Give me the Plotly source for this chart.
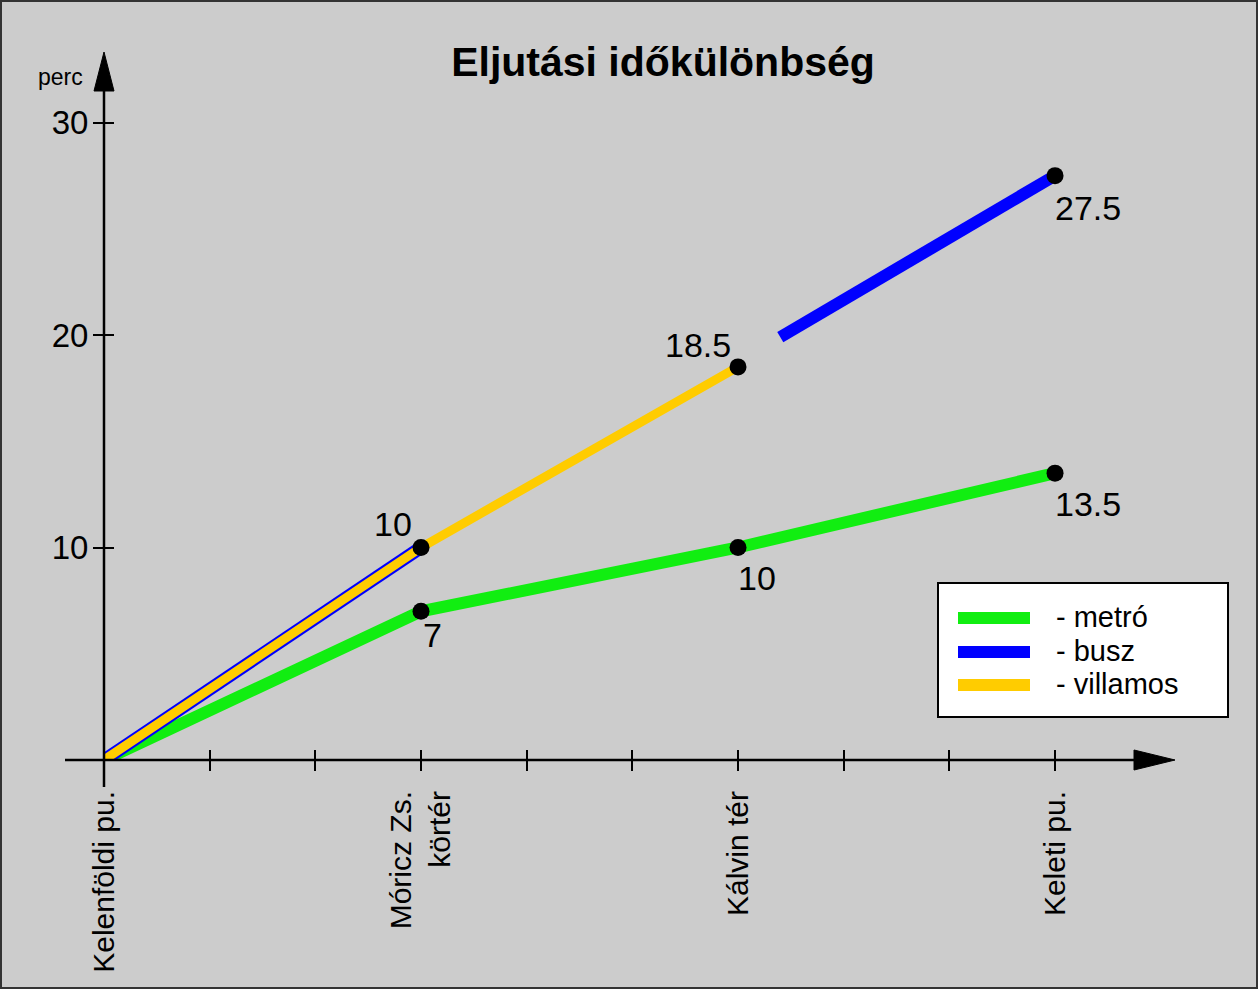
import plotly.graph_objects as go

W, H = 1258, 989

# ---- data ----
stations = ['Kelenföldi pu.', 'Móricz Zs.<br>körtér', 'Kálvin tér', 'Keleti pu.']
station_pos = [0, 3, 6, 9]
minor_ticks = [1, 2, 3, 4, 5, 6, 7, 8, 9]
y_ticks = [10, 20, 30]

metro_x = [0, 3, 6, 9]
metro_y = [0, 7, 10, 13.5]
villamos_x = [0, 3, 6]
villamos_y = [0, 10, 18.5]
busz1_x = [0, 3]
busz1_y = [0, 10]
busz2_x = [6.4, 9]
busz2_y = [19.9, 27.5]
dot_x = [3, 3, 6, 6, 9, 9]
dot_y = [10, 7, 18.5, 10, 27.5, 13.5]
label_text = ['10', '7', '18.5', '10', '27.5', '13.5']
label_shift = [(-28, 24), (11, -24), (-40, 22), (19, -30), (33, -32), (33, -31)]

legend_names = ['- metró', '- busz', '- villamos']
GREEN, BLUE, YELLOW = '#11ee11', '#0000ff', '#ffcc00'
legend_colors = [GREEN, BLUE, YELLOW]

FONT = 'Liberation Sans, Arial, Helvetica, sans-serif'

# ---- pixel geometry ----
OX, OY = 104, 760          # origin pixel
UX, UY = 105.67, 21.25     # px per data unit
RIGHT_PX, TOP_PX = 1182, 40

def px(x):
    return x / W

def py(y):
    return 1 - y / H

fig = go.Figure()

fig.add_trace(go.Scatter(x=metro_x, y=metro_y, mode='lines',
                         line=dict(color=GREEN, width=12), hoverinfo='skip'))
fig.add_trace(go.Scatter(x=busz1_x, y=busz1_y, mode='lines',
                         line=dict(color=BLUE, width=13), hoverinfo='skip'))
fig.add_trace(go.Scatter(x=villamos_x, y=villamos_y, mode='lines',
                         line=dict(color=YELLOW, width=9), hoverinfo='skip'))
fig.add_trace(go.Scatter(x=busz2_x, y=busz2_y, mode='lines',
                         line=dict(color=BLUE, width=12), hoverinfo='skip'))
fig.add_trace(go.Scatter(x=dot_x, y=dot_y, mode='markers',
                         marker=dict(color='black', size=17), hoverinfo='skip'))
# invisible trace for overlay axes
fig.add_trace(go.Scatter(x=[0], y=[0], xaxis='x2', yaxis='y2', mode='markers',
                         marker=dict(opacity=0), hoverinfo='skip'))

xr = [0, (RIGHT_PX - OX) / UX]
yr = [0, (OY - TOP_PX) / UY]
xdom = [OX / W, RIGHT_PX / W]
ydom = [(H - OY) / H, (H - TOP_PX) / H]

tickvals_x = [0] + minor_ticks
ticktext_x = []
for v in tickvals_x:
    ticktext_x.append(stations[station_pos.index(v)] if v in station_pos else '')

fig.update_layout(
    width=W, height=H,
    margin=dict(l=0, r=0, t=0, b=0, autoexpand=False),
    paper_bgcolor='#cccccc', plot_bgcolor='rgba(0,0,0,0)',
    showlegend=False,
    title=dict(text='<b>Eljutási időkülönbség</b>', x=663 / W, y=py(62),
               xanchor='center', yanchor='middle',
               font=dict(family=FONT, size=41, color='black')),
    xaxis=dict(domain=xdom, range=xr, anchor='y', showgrid=False, zeroline=False,
               automargin=False,
               showline=False, ticks='outside', ticklen=10, tickwidth=2, tickcolor='black',
               tickmode='array', tickvals=tickvals_x, ticktext=ticktext_x, tickangle=-90,
               ticklabelstandoff=8,
               tickfont=dict(family=FONT, size=30, color='black')),
    xaxis2=dict(domain=xdom, range=xr, anchor='y', overlaying='x', side='bottom',
                automargin=False,
                showgrid=False, zeroline=False, showline=False, ticks='inside',
                ticklen=10, tickwidth=2, tickcolor='black', tickmode='array',
                tickvals=minor_ticks, showticklabels=False),
    yaxis=dict(domain=ydom, range=yr, anchor='x', showgrid=False, zeroline=False,
               automargin=False,
               showline=False, ticks='outside', ticklen=10, tickwidth=2, tickcolor='black',
               tickmode='array', tickvals=y_ticks, ticktext=[str(v) for v in y_ticks],
               ticklabelstandoff=-2,
               tickfont=dict(family=FONT, size=33, color='black')),
    yaxis2=dict(domain=ydom, range=yr, anchor='x', overlaying='y', side='left',
                automargin=False,
                showgrid=False, zeroline=False, showline=False, ticks='inside',
                ticklen=10, tickwidth=2, tickcolor='black', tickmode='array',
                tickvals=y_ticks, showticklabels=False),
)

shapes = []
# axis lines
shapes.append(dict(type='line', xref='paper', yref='paper', x0=px(65), y0=py(OY),
                   x1=px(1140), y1=py(OY), line=dict(color='black', width=2.5)))
shapes.append(dict(type='line', xref='paper', yref='paper', x0=px(OX), y0=py(787),
                   x1=px(OX), y1=py(88), line=dict(color='black', width=2.5)))
# arrow heads
shapes.append(dict(type='path', xref='paper', yref='paper',
                   path=f'M {px(1175)} {py(OY)} L {px(1134)} {py(OY-10)} L {px(1134)} {py(OY+10)} Z',
                   fillcolor='black', line=dict(color='black', width=1)))
shapes.append(dict(type='path', xref='paper', yref='paper',
                   path=f'M {px(OX)} {py(52)} L {px(OX-10)} {py(91)} L {px(OX+10)} {py(91)} Z',
                   fillcolor='black', line=dict(color='black', width=1)))
# legend box
shapes.append(dict(type='rect', xref='paper', yref='paper', x0=px(938), y0=py(583),
                   x1=px(1228), y1=py(717), fillcolor='white',
                   line=dict(color='black', width=2)))
leg_y = [618, 652, 685]
for yy, c in zip(leg_y, legend_colors):
    shapes.append(dict(type='line', xref='paper', yref='paper', x0=px(958), y0=py(yy),
                       x1=px(1030), y1=py(yy), line=dict(color=c, width=12)))
# outer border
shapes.append(dict(type='rect', xref='paper', yref='paper', x0=0, y0=0, x1=1, y1=1,
                   line=dict(color='#333333', width=4)))
fig.update_layout(shapes=shapes)

annotations = []
for x, y, t, (dx, dy) in zip(dot_x, dot_y, label_text, label_shift):
    annotations.append(dict(x=x, y=y, xref='x', yref='y', text=t, showarrow=False,
                            xshift=dx, yshift=dy, xanchor='center', yanchor='middle',
                            font=dict(family=FONT, size=34, color='black')))
for yy, name in zip(leg_y, legend_names):
    annotations.append(dict(x=px(1054), y=py(yy - 1), xref='paper', yref='paper', text=name,
                            showarrow=False, xanchor='left', yanchor='middle',
                            font=dict(family=FONT, size=29, color='black')))
annotations.append(dict(x=px(60), y=py(77), xref='paper', yref='paper', text='perc',
                        showarrow=False, xanchor='center', yanchor='middle',
                        font=dict(family=FONT, size=23, color='black')))
fig.update_layout(annotations=annotations)

fig.write_html('out.html')
